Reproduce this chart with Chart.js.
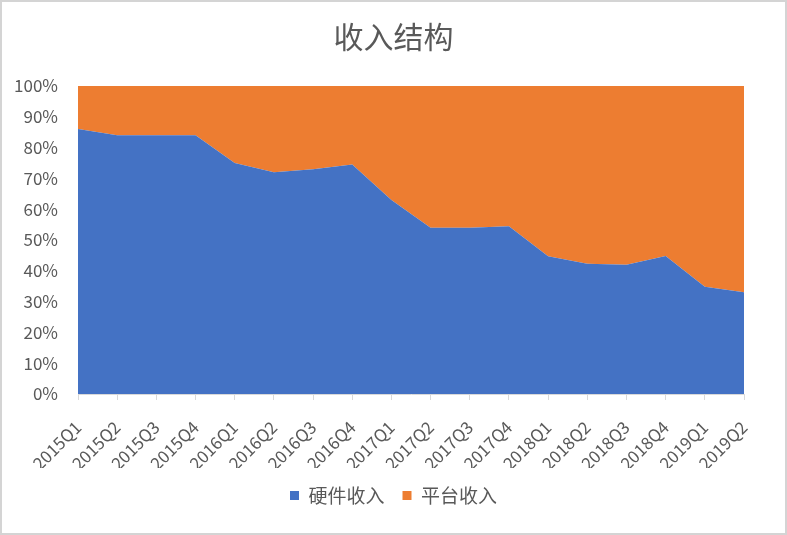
<!DOCTYPE html>
<html>
<head>
<meta charset="utf-8">
<script src="https://cdn.jsdelivr.net/npm/chart.js@4.4.1/dist/chart.umd.min.js"></script>
<style>
  html, body { margin: 0; padding: 0; background: #fff; }
  #wrap { width: 787px; height: 535px; box-sizing: border-box; border: 2px solid #d4d4d4; }
  canvas { display: block; }
</style>
</head>
<body>
<div id="wrap"><canvas id="chart" width="783" height="531"></canvas></div>
<script>
const quarters = ['2015Q1', '2015Q2', '2015Q3', '2015Q4', '2016Q1', '2016Q2', '2016Q3', '2016Q4',
  '2017Q1', '2017Q2', '2017Q3', '2017Q4', '2018Q1', '2018Q2', '2018Q3', '2018Q4', '2019Q1', '2019Q2'];
const hardware = [86, 84, 84, 84, 75, 72, 73, 74.5, 63, 54, 54, 54.5, 44.7, 42.3, 42, 44.8, 34.8, 33];
const platform = [14, 16, 16, 16, 25, 28, 27, 25.5, 37, 46, 46, 45.5, 55.3, 57.7, 58, 55.2, 65.2, 67];
const yTicks = [0, 10, 20, 30, 40, 50, 60, 70, 80, 90, 100];

const font = "'Noto Sans CJK SC', 'Liberation Sans', sans-serif";

new Chart(document.getElementById('chart'), {
  type: 'line',
  data: {
    labels: quarters,
    datasets: [
      {
        label: '硬件收入',
        data: hardware,
        backgroundColor: '#4472c4',
        borderColor: '#4472c4',
        borderWidth: 0,
        pointRadius: 0,
        fill: 'origin',
        tension: 0
      },
      {
        label: '平台收入',
        data: platform,
        backgroundColor: '#ed7d31',
        borderColor: '#ed7d31',
        borderWidth: 0,
        pointRadius: 0,
        fill: '-1',
        tension: 0
      }
    ]
  },
  options: {
    responsive: false,
    animation: false,
    devicePixelRatio: 1,
    layout: { padding: { left: 0, right: 0, top: 0, bottom: 18 } },
    plugins: {
      title: {
        display: true,
        text: '收入结构',
        color: '#595959',
        font: { family: font, size: 30, weight: 'normal' },
        padding: { top: 17, bottom: 31 }
      },
      legend: {
        position: 'bottom',
        labels: {
          color: '#595959',
          font: { family: font, size: 19 },
          boxWidth: 9,
          boxHeight: 9,
          padding: 18
        }
      },
      tooltip: { enabled: false }
    },
    scales: {
      x: {
        offset: false,
        afterFit: axis => { axis.height = 74; },
        grid: { display: true, drawOnChartArea: false, drawTicks: true, tickLength: 6, color: '#d9d9d9' },
        border: { color: '#d9d9d9' },
        ticks: {
          color: '#595959',
          font: { family: font, size: 17 },
          minRotation: 45,
          maxRotation: 45,
          autoSkip: false,
          padding: 17
        }
      },
      y: {
        stacked: true,
        min: 0,
        max: 100,
        afterBuildTicks: axis => { axis.ticks = yTicks.map(v => ({ value: v })); },
        afterFit: axis => { axis.width = 76; },
        grid: { display: false },
        border: { display: false },
        ticks: {
          color: '#595959',
          font: { family: font, size: 17 },
          padding: 12,
          callback: v => v + '%'
        }
      },
      right: {
        position: 'right',
        display: true,
        afterFit: axis => { axis.width = 41; },
        grid: { display: false },
        border: { display: false },
        ticks: { display: false }
      }
    }
  }
});
</script>
</body>
</html>
